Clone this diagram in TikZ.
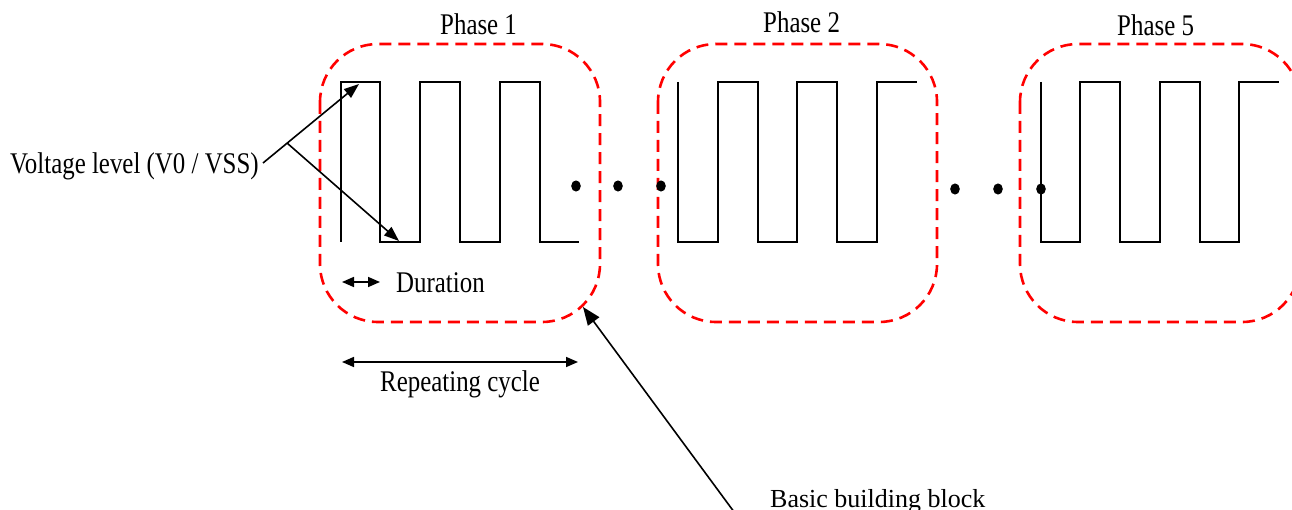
\documentclass[tikz,border=0pt]{standalone}
\usepackage{fontspec}
\setmainfont{Liberation Serif}[FakeStretch=0.83]
\newfontfamily\plainserif{Liberation Serif}
\usetikzlibrary{arrows.meta}

\tikzset{
  lbl/.style={inner sep=0pt, anchor=base west, font=\fontsize{30}{36}\selectfont},
  blocklbl/.style={inner sep=0pt, anchor=base west, font=\plainserif\fontsize{26}{31}\selectfont},
  wave/.style={line width=1.8pt, line join=miter},
  phasebox/.style={draw=red, line width=2.6pt, dash pattern=on 12pt off 7pt, rounded corners=58pt},
  pointer/.style={line width=1.6pt, -{Triangle[length=15pt,width=11pt]}},
  span/.style={line width=1.6pt, {Triangle[length=12pt,width=10pt]}-{Triangle[length=12pt,width=10pt]}},
  bigpointer/.style={line width=1.6pt, -{Triangle[length=18pt,width=14pt]}},
  gapdot/.style={fill=black, draw=none}
}

\begin{document}
\begin{tikzpicture}[x=1pt, y=-1pt]
  \useasboundingbox (0,0) rectangle (1292,510);
  \clip (0,0) rectangle (1292,510);

  % dashed phase frames
  \draw[phasebox] (320,44) rectangle (600,322);
  \draw[phasebox] (658,44) rectangle (937,322);
  \draw[phasebox] (1020,44) rectangle (1300,322);

  % square waves
  \draw[wave] (341,242) -- (341,82) -- (380,82) -- (380,242) -- (420,242) -- (420,82)
    -- (460,82) -- (460,242) -- (500,242) -- (500,82) -- (540,82) -- (540,242) -- (579,242);
  \draw[wave] (678,82) -- (678,242) -- (718,242) -- (718,82) -- (758,82) -- (758,242)
    -- (797,242) -- (797,82) -- (837,82) -- (837,242) -- (877,242) -- (877,82) -- (917,82);
  \draw[wave] (1041,82) -- (1041,242) -- (1080,242) -- (1080,82) -- (1120,82) -- (1120,242)
    -- (1160,242) -- (1160,82) -- (1200,82) -- (1200,242) -- (1239,242) -- (1239,82) -- (1279,82);

  % ellipsis dots between phases
  \fill[gapdot] (576,186) ellipse [x radius=4.8pt, y radius=5.6pt];
  \fill[gapdot] (618,186) ellipse [x radius=4.8pt, y radius=5.6pt];
  \fill[gapdot] (661,186) ellipse [x radius=4.8pt, y radius=5.6pt];
  \fill[gapdot] (955,189) ellipse [x radius=4.8pt, y radius=5.6pt];
  \fill[gapdot] (998,189) ellipse [x radius=4.8pt, y radius=5.6pt];
  \fill[gapdot] (1041,189) ellipse [x radius=4.8pt, y radius=5.6pt];

  % labels
  \node[lbl] (ph1) at (440,35) {Phase 1};
  \node[lbl] (ph2) at (763,33) {Phase 2};
  \node[lbl] (ph5) at (1117,36) {Phase 5};
  \node[lbl] (volt) at (10,174) {Voltage level (V0 / VSS)};
  \node[lbl] (dur) at (396,293) {Duration};
  \node[lbl] (rep) at (380,391) {Repeating cycle};
  \node[blocklbl] (bbb) at (770,507) {Basic building block};
  \node[lbl] (pwr) at (8,533) {Power source block};

  % voltage level pointers
  \coordinate (vstart) at (263,163);
  \coordinate (vfork) at (287,143);
  \coordinate (vhigh) at (359,84);
  \coordinate (vlow) at (399,241);
  \draw[pointer] (vstart) -- (vhigh);
  \draw[pointer] (vfork) -- (vlow);

  % duration and cycle spans
  \coordinate (d1) at (342,282);
  \coordinate (d2) at (380,282);
  \draw[span] (d1) -- (d2);
  \coordinate (r1) at (342,362);
  \coordinate (r2) at (578,362);
  \draw[span] (r1) -- (r2);

  % building block pointer
  \coordinate (bbtail) at (740,520);
  \coordinate (bbtip) at (583,307);
  \draw[bigpointer] (bbtail) -- (bbtip);
\end{tikzpicture}
\end{document}
